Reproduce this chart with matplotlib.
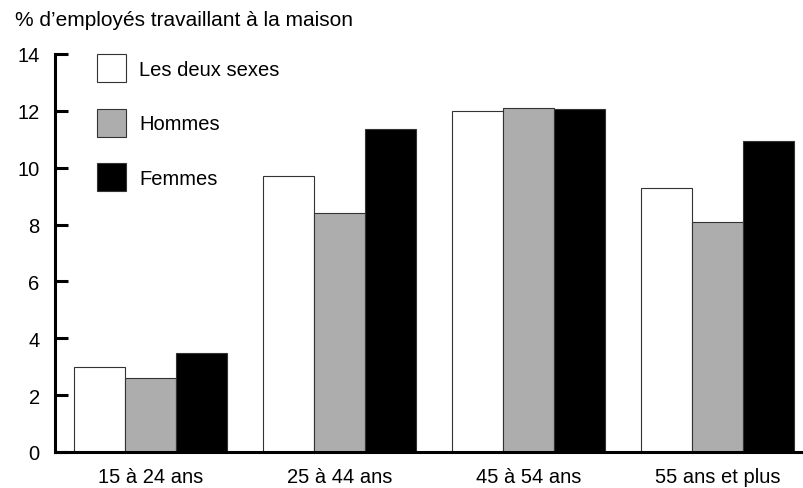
import numpy as np
import matplotlib.pyplot as plt

plt.rcParams['font.family'] = ['Liberation Sans', 'DejaVu Sans']

groupes = ['15 à 24 ans', '25 à 44 ans', '45 à 54 ans', '55 ans et plus']
deux_sexes = [3.0, 9.7, 12.0, 9.3]
hommes = [2.6, 8.4, 12.1, 8.1]
femmes = [3.5, 11.35, 12.05, 10.95]
series = ['Les deux sexes', 'Hommes', 'Femmes']
couleurs = ['white', '#adadad', 'black']

fig = plt.figure(figsize=(8.04, 4.89), dpi=100)
ax = fig.add_axes([55 / 804, 36 / 489, 1 - 55 / 804, 398 / 489])

x = np.arange(len(groupes))
w = 0.27
for i, (vals, lab, c) in enumerate(zip([deux_sexes, hommes, femmes], series, couleurs)):
    ax.bar(x + (i - 1) * w, vals, w, color=c, edgecolor='#333333', linewidth=0.8, label=lab)

ax.set_xlim(-0.505, 3.458)
ax.set_ylim(0, 14)
ax.set_yticks(range(0, 15, 2))
ax.set_xticks(x)
ax.set_xticklabels(groupes)

for s in ['top', 'right']:
    ax.spines[s].set_visible(False)
for s in ['left', 'bottom']:
    ax.spines[s].set_linewidth(2.2)
ax.tick_params(axis='y', direction='in', length=9.5, width=2.2, pad=11, labelsize=14.5)
ax.tick_params(axis='x', length=0, pad=11, labelsize=14.5)

ax.legend(loc='upper left', bbox_to_anchor=(97 / 804, 1 - 55 / 489),
          bbox_transform=fig.transFigure, frameon=False, fontsize=14.5,
          handlelength=1.44, handleheight=1.77, labelspacing=1.32,
          handletextpad=0.65, borderpad=0, borderaxespad=0)

fig.text(15 / 804, 1 - 20 / 489, "% d\u2019employés travaillant à la maison",
         fontsize=15, va='center', ha='left')

fig.savefig('out.png', dpi=100)
